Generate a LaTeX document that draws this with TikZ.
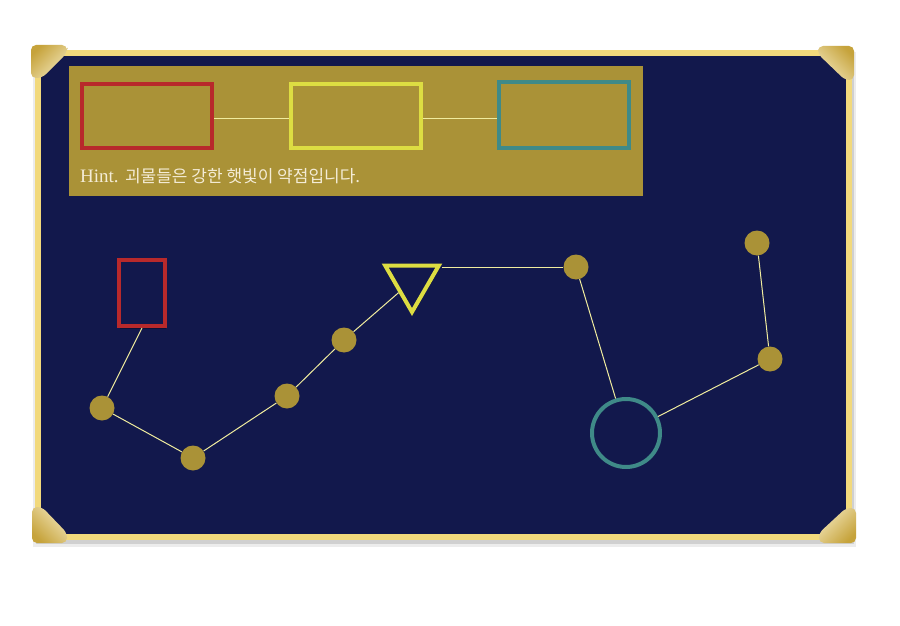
\documentclass[tikz,border=0pt]{standalone}
\usepackage{fontspec}
\setmainfont{Liberation Serif}
\newfontfamily\krfont{Noto Sans CJK KR}
\usetikzlibrary{shapes.geometric, shadows, positioning}

\definecolor{navy}{HTML}{12184C}
\definecolor{panelgold}{HTML}{AA9237}
\definecolor{framegold}{HTML}{F2D97C}
\definecolor{cornerdark}{HTML}{C6A33B}
\definecolor{cornerlight}{HTML}{F1E4B6}
\definecolor{hintred}{HTML}{B8292B}
\definecolor{hintyellow}{HTML}{DDDD42}
\definecolor{hintteal}{HTML}{3F8A88}
\definecolor{linkyellow}{HTML}{F0EC9E}
\definecolor{hintcream}{HTML}{F4ECD6}

\begin{document}
\begin{tikzpicture}[
    x=1pt, y=-1pt,
    myshadow/.style={drop shadow={shadow xshift=1pt, shadow yshift=-2.5pt, opacity=0.3, fill=black}},
    mybox/.style={draw, line width=4pt, minimum width=130pt, minimum height=63pt, inner sep=0pt, fill=panelgold, myshadow},
    mydot/.style={circle, fill=panelgold, minimum size=25pt, inner sep=0pt},
    mylink/.style={draw=linkyellow, line width=1pt},
    mycorner/.style={rounded corners=5pt, top color=cornerdark, bottom color=cornerlight},
]

% Canvas
\fill[white] (0,0) rectangle (900,626);
\useasboundingbox (0,0) rectangle (900,626);

% Frame
\fill[gray, opacity=0.15] (33,52) rectangle (856,547);
\fill[gray, opacity=0.25] (36,54) rectangle (854,544);
\draw[framegold, fill=navy, line width=6pt] (38,53) rectangle (849,537);

% Corners
\shade[mycorner, shading angle=45] (31,45) -- (67,45) -- (67,53) -- (42,78) -- (31,78) -- cycle;
\shade[mycorner, shading angle=-45] (818,46) -- (854,46) -- (854,80) -- (845,80) -- (818,54) -- cycle;
\shade[mycorner, shading angle=135] (32,507) -- (42,507) -- (67,533) -- (67,543) -- (32,543) -- cycle;
\shade[mycorner, shading angle=-135] (856,508) -- (856,543) -- (819,543) -- (819,533) -- (846,508) -- cycle;

% Hint panel
\fill[panelgold] (69,66) rectangle (643,196);
\node[mybox, draw=hintred] (redbox) at (147,116) {};
\node[mybox, draw=hintyellow] (yellowbox) at (356,116) {};
\node[mybox, draw=hintteal, minimum height=65pt] (tealbox) at (564,115) {};
\node[anchor=base west, inner sep=0pt, text=hintcream, font=\fontsize{19}{22}\selectfont] (hint) at (80,182)
    {Hint. {\krfont\fontsize{17}{20}\selectfont 괴물들은 강한 햇빛이 약점입니다.}};

\draw[mylink] ([yshift=-2pt]redbox.east) -- ([yshift=-2pt]yellowbox.west);
\draw[mylink] ([yshift=-2pt]yellowbox.east) -- ([yshift=-2pt]yellowbox.east -| tealbox.west);

% Shapes
\node[draw=hintred, line width=4pt, fill=navy, minimum width=46pt, minimum height=66pt, inner sep=0pt, myshadow] (redrect) at (142,293) {};
\node[mydot] (d1) at (102,408) {};
\node[mydot] (d2) at (193,458) {};
\node[mydot] (d3) at (287,396) {};
\node[mydot] (d4) at (344,340) {};
\node[regular polygon, regular polygon sides=3, shape border rotate=180, minimum size=62pt, inner sep=0pt,
      draw=hintyellow, line width=4pt, fill=navy, myshadow] (tri) at (412,281) {};
\node[mydot] (d5) at (576,267) {};
\node[circle, draw=hintteal, line width=4pt, minimum size=68pt, inner sep=0pt] (ring) at (626,433) {};
\node[mydot] (d6) at (757,243) {};
\node[mydot] (d7) at (770,359) {};

% Lines
\draw[mylink] (redrect.south) -- (d1);
\draw[mylink] (d1) -- (d2);
\draw[mylink] (d2) -- (d3);
\draw[mylink] (d3) -- (d4);
\draw[mylink] (d4) -- (tri);
\draw[mylink] (tri.corner 2 |- d5) -- (d5);
\draw[mylink] (d5) -- (ring);
\draw[mylink] (ring) -- (d7);
\draw[mylink] (d7) -- (d6);

\end{tikzpicture}
\end{document}
